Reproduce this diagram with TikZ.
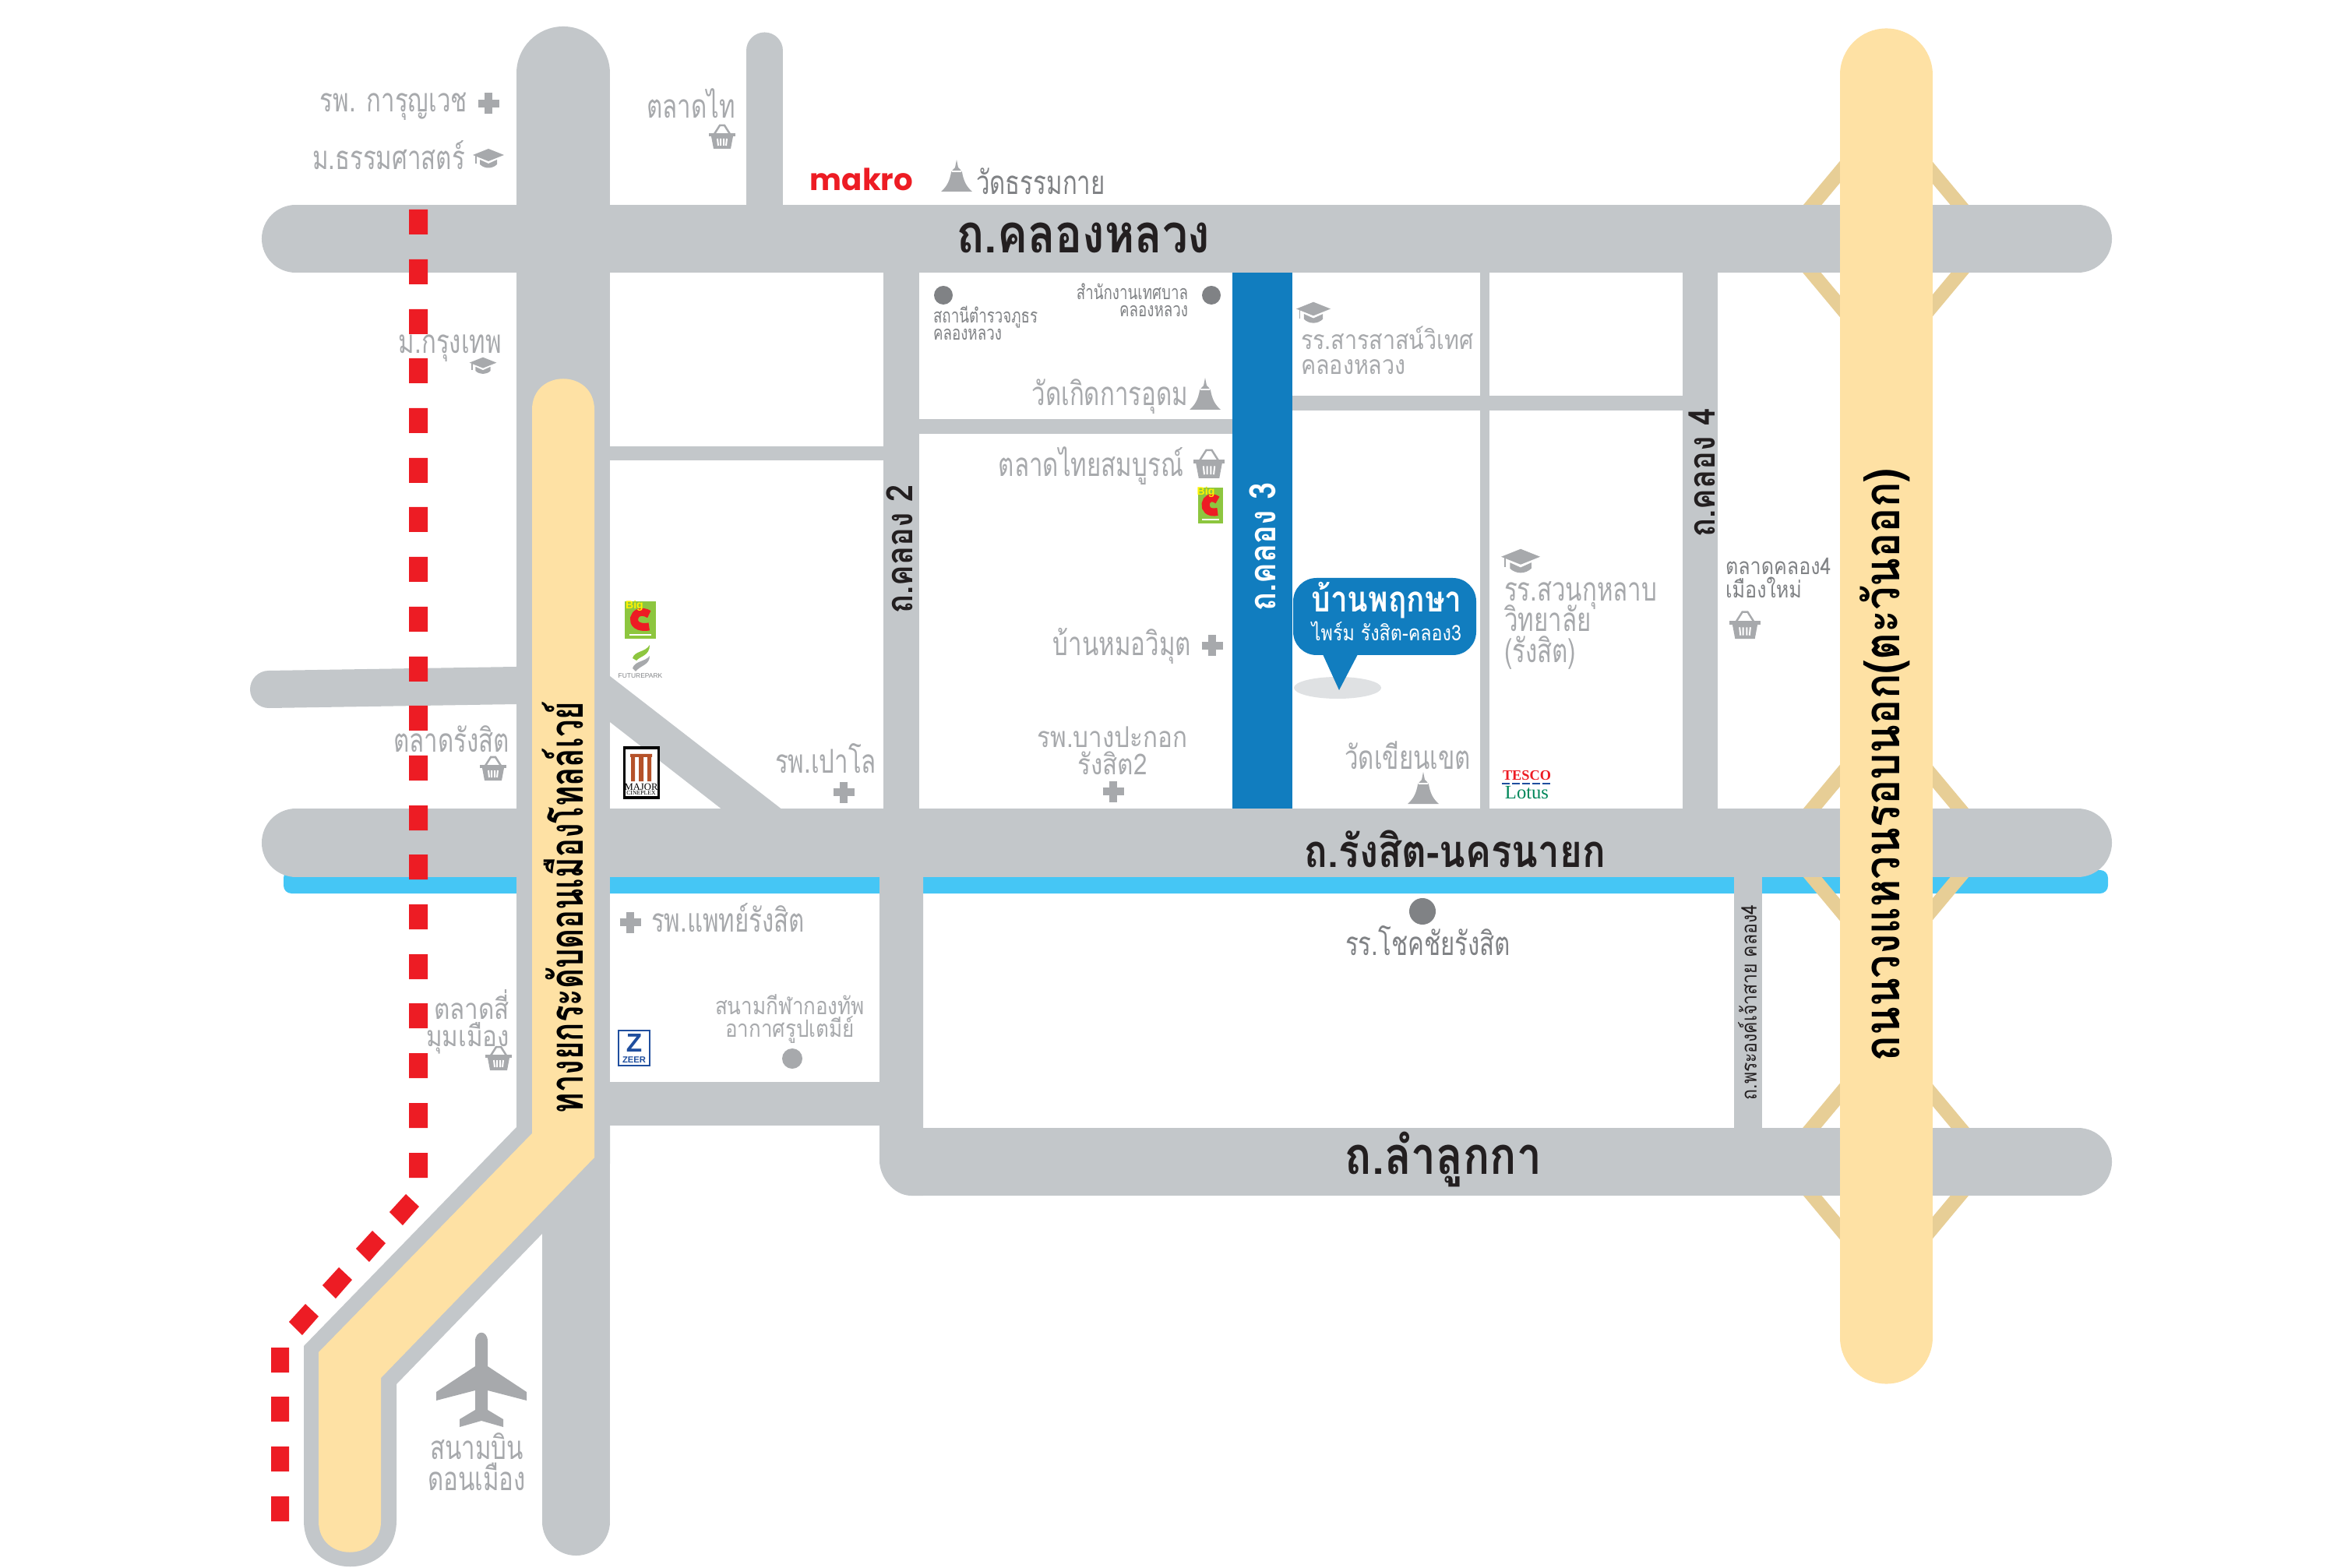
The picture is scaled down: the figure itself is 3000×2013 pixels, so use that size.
\documentclass[tikz,border=0pt]{standalone}
\usepackage{fontspec}
\setmainfont[Script=Thai,FakeStretch=0.85]{Loma}
\newfontfamily\graythai[Script=Thai,FakeStretch=0.74]{Loma}
\newfontfamily\tollthai[Script=Thai,FakeStretch=0.67]{Loma}
\newfontfamily\logosans{Liberation Sans}
\newfontfamily\logoserif{Liberation Serif}
\newfontfamily\logoround{Poppins}
\definecolor{roadgray}{HTML}{C3C7CA}
\definecolor{tollyellow}{HTML}{FEE1A4}
\definecolor{rampyellow}{HTML}{E7CE96}
\definecolor{canalblue}{HTML}{45C6F5}
\definecolor{soiblue}{HTML}{117DBF}
\definecolor{dashred}{HTML}{ED1C24}
\definecolor{labelgray}{HTML}{A7A9AC}
\definecolor{dotgray}{HTML}{808285}
\definecolor{inkdark}{HTML}{231F20}
\definecolor{shadowgray}{HTML}{DFE1E3}
\definecolor{bigcgreen}{HTML}{8DC63F}
\definecolor{tescoblue}{HTML}{1F4E9E}
\definecolor{lotusgreen}{HTML}{00875A}
\definecolor{majorbrown}{HTML}{B5522A}
\newcommand{\sizept}[2]{\fontsize{#1}{#2}\selectfont\lineskiplimit=-100pt\relax}
\tikzset{
  road/.style={draw=roadgray,line cap=round},
  flatroad/.style={draw=roadgray},
  dashfill/.style={fill=dashred},
  ramp/.style={draw=rampyellow,line width=0.18cm},
  graytext/.style={text=labelgray,inner sep=0pt,outer sep=0pt,yshift=-0.03cm,font=\graythai\sizept{12}{11}},
  smalltext/.style={text=dotgray,inner sep=0pt,outer sep=0pt,font=\graythai\sizept{7.2}{6.3}},
  roadtext/.style={text=inkdark,inner sep=0pt,outer sep=0pt,font=\bfseries\sizept{19.5}{19}},
  sidetext/.style={text=inkdark,inner sep=0pt,outer sep=0pt,font=\bfseries\sizept{13.3}{13}},
  tolltext/.style={text=black,inner sep=0pt,outer sep=0pt,font=\bfseries\sizept{18}{18}},
  plusicon/.pic={
    \draw[labelgray,line width=0.1cm] (-13.5,0) -- (13.5,0) (0,-13.5) -- (0,13.5);
  },
  basketicon/.pic={
    \draw[labelgray,line width=0.025cm] (-10,-4) -- (-3,-15) -- (3,-15) -- (10,-4);
    \fill[labelgray] (-17,-5) rectangle (17,-1);
    \fill[labelgray] (-14,-1) -- (14,-1) -- (11,15) -- (-11,15) -- cycle;
    \draw[white,line width=0.02cm] (-6,2) -- (-5,11) (-2,2) -- (-2,11) (2,2) -- (2,11) (6,2) -- (5,11);
  },
  capicon/.pic={
    \fill[labelgray] (-20,-5) -- (0,-13) -- (20,-5) -- (0,3) -- cycle;
    \fill[labelgray] (-11,1) -- (0,6) -- (11,1) -- (11,7) .. controls (5,13) and (-5,13) .. (-11,7) -- cycle;
    \draw[labelgray,line width=0.012cm] (-16,-4) -- (-16,6);
  },
  templeicon/.pic={
    \fill[labelgray] (0,-21) -- (2,-11) -- (5,-8) -- (7,-5) .. controls (9,6) and (12,13) .. (20,20)
      -- (-20,20) .. controls (-12,13) and (-9,6) .. (-7,-5) -- (-5,-8) -- (-2,-11) -- cycle;
    \draw[white,line width=0.012cm] (-6,-6) -- (6,-6);
  },
  bigclogo/.pic={
    \fill[bigcgreen] (-16,-23) rectangle (16,23);
    \draw[dashred,line width=0.1cm] (9,-7) .. controls (-8,-19) and (-15,13) .. (9,8);
    \draw (-6,-17) node (-word) [text=yellow,inner sep=0pt,font=\logosans\bfseries\sizept{4}{4}] {Big};
    \draw[white,line width=0.025cm] (-11,18) -- (11,18);
  }
}
\begin{document}
\begin{tikzpicture}[x=0.01cm,y=-0.01cm]
  \useasboundingbox (0,0) rectangle (3000,2013);

  % Canal under the Rangsit road
  \fill[canalblue,rounded corners=0.1cm] (364,1117) rectangle (2706,1147);%

  % Ramps of the ring road
  \draw[ramp] (2290,307) -- (2421,150) -- (2552,307) -- (2421,464) -- cycle;%
  \draw[ramp] (2290,1082) -- (2421,925) -- (2552,1082) -- (2421,1239) -- cycle;%
  \draw[ramp] (2290,1491) -- (2421,1334) -- (2552,1491) -- (2421,1648) -- cycle;%

  % Small roads
  \draw[road,line width=0.47cm] (981.5,65) -- (981.5,300);%
  \draw[road,line width=0.48cm] (345,885) -- (663,880);%
  \draw[flatroad,line width=0.18cm] (783,582) -- (1157,582);%
  \draw[flatroad,line width=0.19cm] (1157,547.5) -- (1582,547.5);%
  \draw[flatroad,line width=0.19cm] (1659,517.5) -- (2165,517.5);%
  \draw[flatroad,line width=0.12cm] (1906,350) -- (1906,1040);%
  \draw[flatroad,line width=0.45cm] (2182.5,350) -- (2182.5,1040);%
  \draw[flatroad,line width=0.36cm] (2244,1126) -- (2244,1450);%
  \draw[flatroad,line width=0.46cm] (1157,350) -- (1157,1040);%
  \draw[flatroad,line width=0.56cm] (783,1417) -- (1140,1417);%
  \fill[roadgray] (783,868) -- (1005,1040) -- (928,1040) -- (783,927) -- cycle;%

  % Road 2 lower part
  \fill[roadgray] (1129,1100) -- (1185,1100) -- (1185,1535) -- (1170,1535) .. controls (1146,1535) and (1129,1510) .. (1129,1490) -- cycle;%

  % Main roads
  \draw[road,line width=0.87cm] (379.5,306.5) -- (2667.5,306.5);%
  \draw[road,line width=0.88cm] (380,1082) -- (2667,1082);%
  \draw[road,line width=0.87cm] (1175,1491.5) -- (2667.5,1491.5);%
  \draw[road,line width=1.20cm] (723,94) -- (723,1447);%
  \draw[road,line width=0.87cm] (739.5,1400) -- (739.5,1953.5);%

  % Casing of the tollway bend
  \fill[roadgray] (663,1447) -- (390,1728) -- (390,1952) .. controls (390,2031) and (509,2031) .. (509,1952) -- (509,1777) -- (783,1494) -- (783,1400) -- (663,1400) -- cycle;%

  % Blue road
  \fill[soiblue] (1582,350) rectangle (1659,1038);%

  % Red railway
  \fill[dashfill] (525,269) rectangle +(24,32) (525,333) rectangle +(24,32) (525,397) rectangle +(24,32) (525,460) rectangle +(24,32)
    (525,524) rectangle +(24,32) (525,588) rectangle +(24,32) (525,651) rectangle +(24,32) (525,715) rectangle +(24,32)
    (525,779) rectangle +(24,32) (525,843) rectangle +(24,32) (525,906) rectangle +(24,32) (525,970) rectangle +(24,32)
    (525,1034) rectangle +(24,32) (525,1097) rectangle +(24,32) (525,1161) rectangle +(24,32) (525,1225) rectangle +(24,32)
    (525,1288) rectangle +(24,32) (525,1352) rectangle +(24,32) (525,1416) rectangle +(24,32) (525,1480) rectangle +(24,32);%
  \fill[dashfill] (521,1533) -- (538,1549) -- (517,1573) -- (500,1556) -- cycle;%
  \fill[dashfill] (478,1580) -- (495,1596) -- (474,1620) -- (457,1603) -- cycle;%
  \fill[dashfill] (435,1627) -- (452,1643) -- (431,1667) -- (414,1650) -- cycle;%
  \fill[dashfill] (392,1674) -- (409,1690) -- (388,1714) -- (371,1697) -- cycle;%
  \fill[dashfill] (348,1730) rectangle +(23,32) (348,1793) rectangle +(23,32) (348,1857) rectangle +(23,32) (348,1921) rectangle +(23,32);%

  % Yellow roads
  \fill[tollyellow] (683,526) .. controls (683,473) and (763,473) .. (763,526) -- (763,1486) -- (489,1769) -- (489,1953) .. controls (489,2006) and (409,2006) .. (409,1953) -- (409,1736) -- (683,1455) -- cycle;%
  \draw[draw=tollyellow,line width=1.19cm,line cap=round] (2421.5,96) -- (2421.5,1717);%

  % Road names
  \draw (1391,325) node (klongluang) [roadtext,anchor=base] {ถ.คลองหลวง};%
  \draw (1868,1113) node (rangsit) [roadtext,font=\bfseries\sizept{16.5}{16},anchor=base] {ถ.รังสิต-นครนายก};%
  \draw (1853,1507) node (lamlukka) [roadtext,font=\bfseries\sizept{19}{19},anchor=base] {ถ.ลำลูกกา};%
  \draw (1155,705) node (klong2) [sidetext,rotate=90] {ถ.คลอง 2};%
  \draw (2185,607) node (klong4) [sidetext,rotate=90] {ถ.คลอง 4};%
  \draw (1621,702) node (klong3) [sidetext,text=white,rotate=90] {ถ.คลอง 3};%
  \draw (2243,1287) node (phraong) [sidetext,font=\sizept{7.7}{7},rotate=90] {ถ.พระองค์เจ้าสาย คลอง4};%
  \draw (722,1165) node (tollway) [tolltext,font=\tollthai\bfseries\sizept{17}{17},rotate=90] {ทางยกระดับดอนเมืองโทลล์เวย์};%
  \draw (2420,982) node (ringroad) [tolltext,rotate=90] {ถนนวงแหวนรอบนอก(ตะวันออก)};%

  % Marking places left of the tollway
  \draw (600,141) node (karunvej) [graytext,anchor=base east] {รพ. การุญเวช};%
  \pic at (627,133) {plusicon};%
  \draw (597,215) node (thammasat) [graytext,anchor=base east] {ม.ธรรมศาสตร์};%
  \pic at (627,204) {capicon};%
  \draw (644,451) node (krungthep) [graytext,anchor=base east] {ม.กรุงเทพ};%
  \pic[scale=0.87] at (620,470) {capicon};%
  \draw (654,962) node (talatrangsit) [graytext,anchor=base east] {ตลาดรังสิต};%
  \pic at (633,987) {basketicon};%
  \draw (654,1340) node (simummueang) [graytext,font=\sizept{10.5}{9.7},align=right,anchor=base east] {ตลาดสี่\\มุมเมือง};%
  \pic at (640,1359) {basketicon};%

  % Marking places along the top
  \draw (944,149) node (talatthai) [graytext,anchor=base east] {ตลาดไท};%
  \pic at (927,176) {basketicon};%
  \draw (1106,230) node (makro) [text=dashred,inner sep=0pt,font=\logoround\bfseries\sizept{11}{11}] {makro};%
  \pic at (1228,226) {templeicon};%
  \draw (1253,247) node (thammakai) [graytext,text=dotgray,anchor=base west] {วัดธรรมกาย};%

  % Marking places between road 2 and the blue road
  \fill[dotgray] (1211,379) circle (0.12cm);%
  \draw (1198,437) node (police) [smalltext,align=left,anchor=base west] {สถานีตำรวจภูธร\\คลองหลวง};%
  \fill[dotgray] (1555,379) circle (0.12cm);%
  \draw (1525,407) node (municipal) [smalltext,align=right,anchor=base east] {สำนักงานเทศบาล\\คลองหลวง};%
  \draw (1525,518) node (koetkan) [graytext,anchor=base east] {วัดเกิดการอุดม};%
  \pic at (1547,506) {templeicon};%
  \draw (1519,609) node (thaisombun) [graytext,anchor=base east] {ตลาดไทยสมบูรณ์};%
  \pic[scale=1.2] at (1552,596) {basketicon};%
  \pic at (1554,649) {bigclogo};%
  \draw (1529,839) node (moowimut) [graytext,anchor=base east] {บ้านหมอวิมุต};%
  \pic at (1556,829) {plusicon};%
  \draw (1428,991) node (bangpakok) [graytext,font=\sizept{10.5}{9.7},align=center,anchor=base] {รพ.บางปะกอก\\รังสิต2};%
  \pic at (1429,1016) {plusicon};%

  % Marking places right of the blue road
  \pic[scale=1.1] at (1686,402) {capicon};%
  \draw (1670,478) node (sarasas) [graytext,font=\sizept{9.6}{9.1},align=left,anchor=base west] {รร.สารสาสน์วิเทศ\\คลองหลวง};%
  \draw (1888,984) node (khian) [graytext,anchor=base east] {วัดเขียนเขต};%
  \pic at (1827,1012) {templeicon};%
  \pic[scale=1.25] at (1952,721) {capicon};%
  \draw (1931,847) node (suankularb) [graytext,font=\graythai\sizept{12}{11.1},align=left,anchor=base west] {รร.สวนกุหลาบ\\วิทยาลัย\\(รังสิต)};%
  \draw (2215,768) node (klong4market) [smalltext,font=\sizept{8.4}{8.8},align=left,anchor=base west] {ตลาดคลอง4\\เมืองใหม่};%
  \pic[scale=1.15] at (2240,803) {basketicon};%

  % Tesco Lotus logo
  \draw (1960,996) node (tesco) [text=dashred,inner sep=0pt,font=\logoserif\bfseries\sizept{5.2}{5.2}] {TESCO};%
  \draw[tescoblue,line width=0.025cm,dash pattern=on 0.1cm off 0.03cm] (1928,1006) -- (1993,1006);%
  \draw (1960,1018) node (lotus) [text=lotusgreen,inner sep=0pt,font=\logoserif\sizept{7}{7}] {Lotus};%

  % Callout of the project
  \fill[shadowgray] (1717,883) ellipse [x radius=0.56cm,y radius=0.14cm];%
  \fill[soiblue,rounded corners=0.3cm] (1660,742) rectangle (1895,841);%
  \fill[soiblue] (1698,840) -- (1743,840) -- (1719,886) -- cycle;%
  \draw (1780,786) node (project) [roadtext,text=white,font=\bfseries\sizept{13}{13},anchor=base] {บ้านพฤกษา};%
  \draw (1780,823) node (projectsub) [smalltext,text=white,font=\sizept{7.8}{8},anchor=base] {ไพร์ม รังสิต-คลอง3};%

  % Marking places south of the canal
  \pic at (809,1184) {plusicon};%
  \draw (836,1193) node (phaetrangsit) [graytext,anchor=base west] {รพ.แพทย์รังสิต};%
  \draw (995,989) node (paolo) [graytext,anchor=base west] {รพ.เปาโล};%
  \pic at (1083,1017) {plusicon};%
  \draw (1014,1331) node (stadium) [smalltext,text=labelgray,font=\sizept{8.7}{8},align=center,anchor=base] {สนามกีฬากองทัพ\\อากาศรูปเตมีย์};%
  \fill[labelgray] (1017,1359) circle (0.13cm);%
  \fill[dotgray] (1826,1170) circle (0.17cm);%
  \draw (1833,1223) node (chokchai) [graytext,text=dotgray,anchor=base] {รร.โชคชัยรังสิต};%

  % Logos beside the tollway
  \pic[xscale=1.25,yscale=1.05] at (822,796) {bigclogo};%
  \fill[bigcgreen] (812,845) .. controls (815,835) and (828,838) .. (834,828) .. controls (834,842) and (822,842) .. (817,848) -- cycle;%
  \fill[labelgray] (812,858) .. controls (815,848) and (828,850) .. (834,842) .. controls (834,854) and (822,854) .. (816,862) -- cycle;%
  \draw (822,868) node (futurepark) [text=dotgray,inner sep=0pt,font=\logosans\sizept{2.4}{2.4}] {FUTUREPARK};%
  \fill[white,draw=black,line width=0.03cm] (801,960) rectangle (845,1024);%
  \fill[majorbrown] (809,968) rectangle (837,972) (810,972) rectangle (815,1003) (820,972) rectangle (826,1003) (831,972) rectangle (836,1003);%
  \draw (823,1010) node (major) [text=black,inner sep=0pt,font=\logoserif\sizept{3.6}{3.6}] {MAJOR};%
  \draw (823,1018) node (cineplex) [text=black,inner sep=0pt,font=\logoserif\sizept{2.2}{2.2}] {CINEPLEX};%
  \fill[white,draw=tescoblue,line width=0.02cm] (794,1323) rectangle (834,1368);%
  \draw (814,1339) node (zeerz) [text=tescoblue,inner sep=0pt,font=\logosans\bfseries\sizept{9.5}{9.5}] {Z};%
  \draw (814,1361) node (zeer) [text=tescoblue,inner sep=0pt,font=\logosans\bfseries\sizept{3.2}{3.2}] {ZEER};%

  % Plane and airport
  \fill[labelgray] (610,1722) .. controls (610,1707) and (626,1707) .. (626,1722) -- (626,1754) -- (676,1787) -- (676,1798) -- (626,1785) -- (626,1810) -- (646,1822) -- (646,1832) -- (618,1824) -- (590,1832) -- (590,1822) -- (610,1810) -- (610,1785) -- (560,1798) -- (560,1787) -- (610,1754) -- cycle;%
  \draw (612,1910) node (airport) [graytext,font=\graythai\sizept{12}{11.1},align=center,anchor=base] {สนามบิน\\ดอนเมือง};%
\end{tikzpicture}
\end{document}
